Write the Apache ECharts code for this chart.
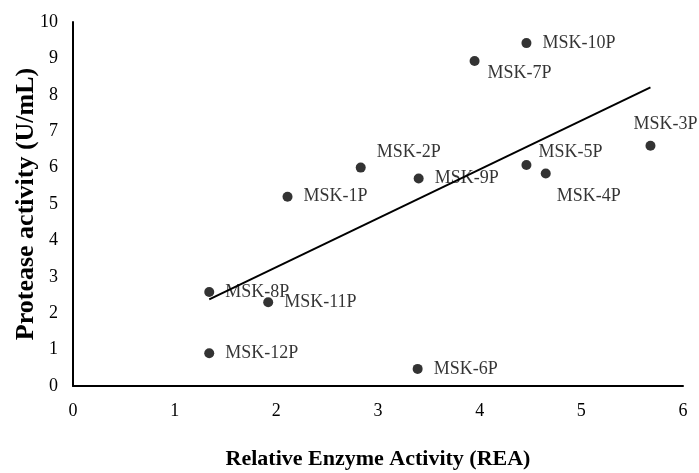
<!DOCTYPE html>
<html>
<head>
<meta charset="utf-8">
<script src="https://cdn.jsdelivr.net/npm/echarts@6/dist/echarts.min.js"></script>
<style>
  html, body { margin: 0; padding: 0; background: #fff; }
  #chart { width: 699px; height: 473px; }
</style>
</head>
<body>
<div id="chart"></div>
<script>
// Isolates and their measured activities
const isolates = ['MSK-1P', 'MSK-2P', 'MSK-3P', 'MSK-4P', 'MSK-5P', 'MSK-6P',
                  'MSK-7P', 'MSK-8P', 'MSK-9P', 'MSK-10P', 'MSK-11P', 'MSK-12P'];
const relativeEnzymeActivity = [2.11, 2.83, 5.68, 4.65, 4.46, 3.39, 3.95, 1.34, 3.40, 4.46, 1.92, 1.34];
const proteaseActivity       = [5.20, 6.00, 6.60, 5.84, 6.07, 0.47, 8.93, 2.58, 5.70, 9.42, 2.30, 0.90];

// Axis tick labels
const xTicks = [0, 1, 2, 3, 4, 5, 6];
const yTicks = [0, 1, 2, 3, 4, 5, 6, 7, 8, 9, 10];

// Label nudges (px) relative to a right-hand label placement
const labelNudge = {
  'MSK-2P': [0, -15],
  'MSK-3P': [-33, -21],
  'MSK-4P': [-5, 23],
  'MSK-5P': [-4, -13],
  'MSK-7P': [-3, 12]
};

// Least-squares trend line over the data range
function linearFit(xs, ys) {
  const n = xs.length;
  const mx = xs.reduce((a, b) => a + b, 0) / n;
  const my = ys.reduce((a, b) => a + b, 0) / n;
  let sxy = 0, sxx = 0;
  for (let i = 0; i < n; i++) {
    sxy += (xs[i] - mx) * (ys[i] - my);
    sxx += (xs[i] - mx) * (xs[i] - mx);
  }
  const slope = sxy / sxx;
  return { slope, intercept: my - slope * mx };
}
const fit = linearFit(relativeEnzymeActivity, proteaseActivity);
const xMin = Math.min(...relativeEnzymeActivity);
const xMax = Math.max(...relativeEnzymeActivity);
const trend = [[xMin, fit.intercept + fit.slope * xMin], [xMax, fit.intercept + fit.slope * xMax]];

const FONT = "'Liberation Serif', 'Times New Roman', serif";

const points = isolates.map((name, i) => ({
  name,
  value: [relativeEnzymeActivity[i], proteaseActivity[i]],
  label: { offset: labelNudge[name] || [0, 0] }
}));

const chart = echarts.init(document.getElementById('chart'), null, { renderer: 'canvas' });
chart.setOption({
  backgroundColor: '#fff',
  animation: false,
  grid: { left: 73, right: 16, top: 22, bottom: 87, containLabel: false, outerBoundsMode: 'none' },
  xAxis: {
    type: 'value', min: xTicks[0], max: xTicks[xTicks.length - 1], interval: 1,
    name: 'Relative Enzyme Activity (REA)',
    nameLocation: 'middle', nameGap: 62, nameMoveOverlap: false,
    nameTextStyle: { fontFamily: FONT, fontSize: 22, fontWeight: 'bold', color: '#000' },
    axisLine: { lineStyle: { color: '#000', width: 2 } },
    axisTick: { show: false },
    splitLine: { show: false },
    axisLabel: { fontFamily: FONT, fontSize: 18, color: '#000', margin: 16 }
  },
  yAxis: {
    type: 'value', min: yTicks[0], max: yTicks[yTicks.length - 1], interval: 1,
    name: 'Protease activity (U/mL)',
    nameLocation: 'middle', nameGap: 34, nameMoveOverlap: false,
    nameTextStyle: { fontFamily: FONT, fontSize: 26, fontWeight: 'bold', color: '#000' },
    axisLine: { show: true, lineStyle: { color: '#000', width: 2 } },
    axisTick: { show: false },
    splitLine: { show: false },
    axisLabel: { fontFamily: FONT, fontSize: 18, color: '#000', margin: 15 }
  },
  series: [
    {
      type: 'line',
      data: trend,
      symbol: 'none',
      lineStyle: { color: '#000', width: 2 },
      z: 2
    },
    {
      type: 'scatter',
      data: points,
      symbol: 'circle',
      symbolSize: 10,
      itemStyle: { color: '#000' },
      label: {
        show: true,
        position: 'right',
        distance: 11,
        formatter: '{b}',
        fontFamily: FONT,
        fontSize: 18,
        color: '#000'
      },
      z: 3
    }
  ]
});
</script>
</body>
</html>
